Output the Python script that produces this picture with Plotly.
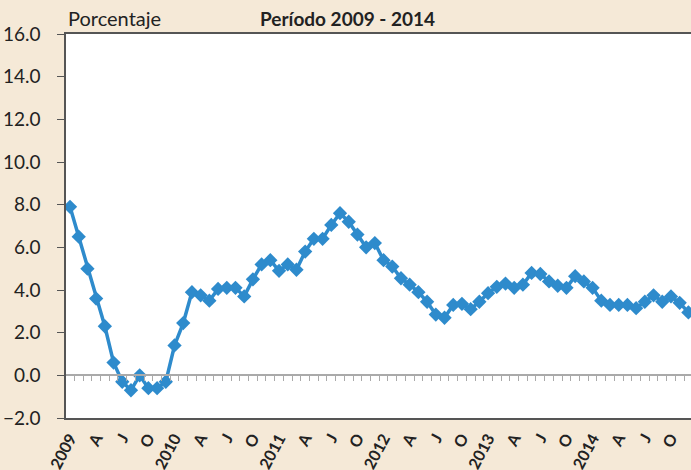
import plotly.graph_objects as go

years = ["2009", "2010", "2011", "2012", "2013", "2014"]
month_marks = ["A", "J", "O"]

v2009 = [7.9, 6.5, 5.0, 3.6, 2.3, 0.6, -0.3, -0.7, 0.0, -0.6, -0.6, -0.3]
v2010 = [1.4, 2.45, 3.9, 3.75, 3.5, 4.05, 4.1, 4.1, 3.7, 4.5, 5.2, 5.4]
v2011 = [4.9, 5.2, 4.95, 5.8, 6.4, 6.4, 7.05, 7.6, 7.2, 6.6, 6.0, 6.2]
v2012 = [5.4, 5.1, 4.55, 4.25, 3.9, 3.45, 2.85, 2.7, 3.3, 3.35, 3.1, 3.45]
v2013 = [3.85, 4.15, 4.3, 4.1, 4.25, 4.8, 4.75, 4.4, 4.2, 4.1, 4.65, 4.4]
v2014 = [4.1, 3.5, 3.3, 3.3, 3.3, 3.15, 3.45, 3.75, 3.45, 3.7, 3.4, 2.95]

values = v2009 + v2010 + v2011 + v2012 + v2013 + v2014
idx = list(range(len(values)))

tickvals = list(range(0, len(values), 3))
ticktext = []
for y in years:
    ticktext += [y] + month_marks

blue = "#2e8bcc"
bg = "#f5e9d7"

fig = go.Figure()
fig.add_trace(go.Scatter(
    x=idx, y=values, mode="lines+markers",
    line=dict(color=blue, width=3.5),
    marker=dict(symbol="diamond", size=11, color=blue),
    showlegend=False, hoverinfo="y",
))
fig.add_trace(go.Scatter(x=[0], y=[None], xaxis="x2", showlegend=False, hoverinfo="skip"))

fig.update_layout(
    width=691, height=470,
    paper_bgcolor=bg, plot_bgcolor="white",
    margin=dict(l=66, r=0, t=34, b=52),
    font=dict(family="Lato", size=18, color="#222"),
    xaxis=dict(
        range=[-0.46, 71.3], tickvals=tickvals, ticktext=ticktext,
        tickangle=-62, tickfont=dict(size=16, family="Lato", color="#222", weight="bold"),
        showline=True, mirror=True, linecolor="#555", linewidth=1.5,
        showgrid=False, zeroline=False, ticks="", ticklabelstandoff=3, automargin=False,
    ),
    xaxis2=dict(
        overlaying="x", anchor="free", position=2/18, side="bottom",
        range=[-0.46, 71.3], tickvals=[i - 0.5 for i in range(len(values) + 1)],
        showticklabels=False, ticks="outside", ticklen=5, tickcolor="#aaa", tickwidth=1,
        showline=True, linecolor="#aaa", linewidth=1.5, showgrid=False, zeroline=False,
        automargin=False,
    ),
    yaxis=dict(
        range=[-2, 16], dtick=2, tick0=-2, tickformat=".1f",
        showline=True, linecolor="#555", linewidth=1.5,
        ticks="outside", ticklen=7, tickcolor="#555", ticklabelstandoff=13,
        showgrid=False, zeroline=False, tickfont=dict(size=19, color="#222"),
        automargin=False,
    ),
    annotations=[
        dict(text="Porcentaje", xref="paper", yref="paper", x=0.0, y=1.0, xanchor="left",
             yanchor="bottom", yshift=2, showarrow=False, font=dict(size=20)),
        dict(text="<b>Período 2009 - 2014</b>", xref="paper", yref="paper", x=0.45, y=1.0,
             yanchor="bottom", yshift=2, showarrow=False, font=dict(size=19)),
    ],
)
fig.write_html(
    "out.html",
    config={"displayModeBar": False},
    post_script="document.body.style.margin='0';document.body.style.background='%s';" % bg,
)
